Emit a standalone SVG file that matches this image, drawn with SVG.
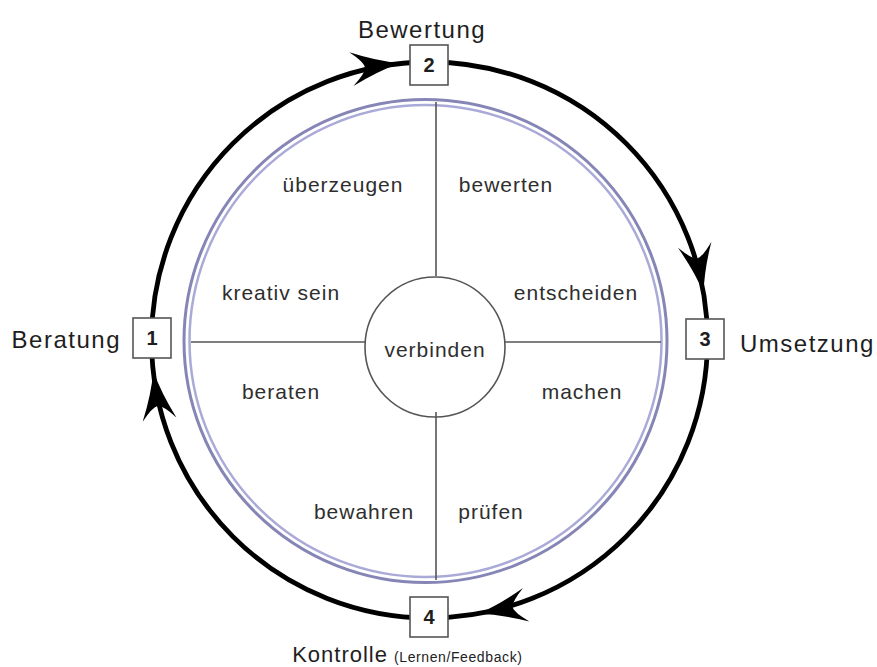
<svg xmlns="http://www.w3.org/2000/svg" width="877" height="667" viewBox="0 0 877 667">
<style>
  .lbl { font-family: "Liberation Sans", Arial, Helvetica, sans-serif; font-size: 24px; fill: #1e1e1e; letter-spacing: 1.5px; }
  .lbl4 { font-family: "Liberation Sans", Arial, Helvetica, sans-serif; font-size: 22px; fill: #1e1e1e; letter-spacing: 1px; }
  .in { font-family: "Liberation Sans", Arial, Helvetica, sans-serif; font-size: 21px; fill: #2e2e2e; letter-spacing: 1px; text-anchor: middle; }
  .small { font-family: "Liberation Sans", Arial, Helvetica, sans-serif; font-size: 14px; fill: #222; letter-spacing: 0.6px; }
  .num { font-family: "Liberation Sans", Arial, Helvetica, sans-serif; font-size: 20px; font-weight: bold; fill: #1e1e1e; text-anchor: middle; }
  .box { fill: #fff; stroke: #555; stroke-width: 1.6; }
  .thin { stroke: #555; stroke-width: 1.6; fill: none; }
  .ah { fill: #000; }
</style>
<defs>
  <path id="head" d="M 3,0 Q -20,-5 -46,-17 Q -33,-6 -32,0 Q -33,6 -46,17 Q -20,5 3,0 Z"/>
</defs>
<rect width="877" height="667" fill="#fff"/>

<g id="cycle">
  <circle cx="429.5" cy="340" r="278" fill="none" stroke="#000" stroke-width="4.8"/>
</g>

<g id="connectors">
  <use href="#head" class="ah" transform="translate(397,63.5) rotate(-7)"/>
  <use href="#head" class="ah" transform="translate(703,290) rotate(79.6)"/>
  <use href="#head" class="ah" transform="translate(481,613.3) rotate(169.2)"/>
  <use href="#head" class="ah" transform="translate(153.7,374) rotate(262.7)"/>
</g>

<g id="wheel">
  <circle cx="425.5" cy="341" r="241.5" fill="none" stroke="#8686b6" stroke-width="3"/>
  <circle cx="425.5" cy="341" r="236" fill="none" stroke="#aaaad8" stroke-width="2.5"/>
  <line class="thin" x1="436" y1="102" x2="436" y2="276"/>
  <line class="thin" x1="436" y1="412" x2="436" y2="580"/>
  <line class="thin" x1="191" y1="342" x2="365" y2="342"/>
  <line class="thin" x1="505" y1="342" x2="661" y2="342"/>
</g>

<g id="center">
  <circle class="thin" cx="435" cy="347" r="70" fill="#fff"/>
  <text class="in" x="435" y="357">verbinden</text>
</g>

<g id="labels-inner">
  <text class="in" x="343" y="192">überzeugen</text>
  <text class="in" x="506" y="192">bewerten</text>
  <text class="in" x="281" y="300">kreativ sein</text>
  <text class="in" x="576" y="300">entscheiden</text>
  <text class="in" x="281" y="399">beraten</text>
  <text class="in" x="582" y="399">machen</text>
  <text class="in" x="364" y="519">bewahren</text>
  <text class="in" x="491" y="519">prüfen</text>
</g>

<g id="node1">
  <rect class="box" x="133" y="318" width="38" height="40"/>
  <text class="num" x="152" y="345">1</text>
  <text class="lbl" x="121" y="348" text-anchor="end">Beratung</text>
</g>
<g id="node2">
  <rect class="box" x="410" y="45" width="38" height="40"/>
  <text class="num" x="429" y="72">2</text>
  <text class="lbl" x="422" y="38" text-anchor="middle">Bewertung</text>
</g>
<g id="node3">
  <rect class="box" x="686" y="319" width="38" height="40"/>
  <text class="num" x="705" y="346">3</text>
  <text class="lbl" x="740" y="352">Umsetzung</text>
</g>
<g id="node4">
  <rect class="box" x="410" y="597" width="38" height="40"/>
  <text class="num" x="429" y="624">4</text>
  <text class="lbl4" x="388" y="662" text-anchor="end">Kontrolle</text>
  <text class="small" x="394" y="662">(Lernen/Feedback)</text>
</g>
</svg>
